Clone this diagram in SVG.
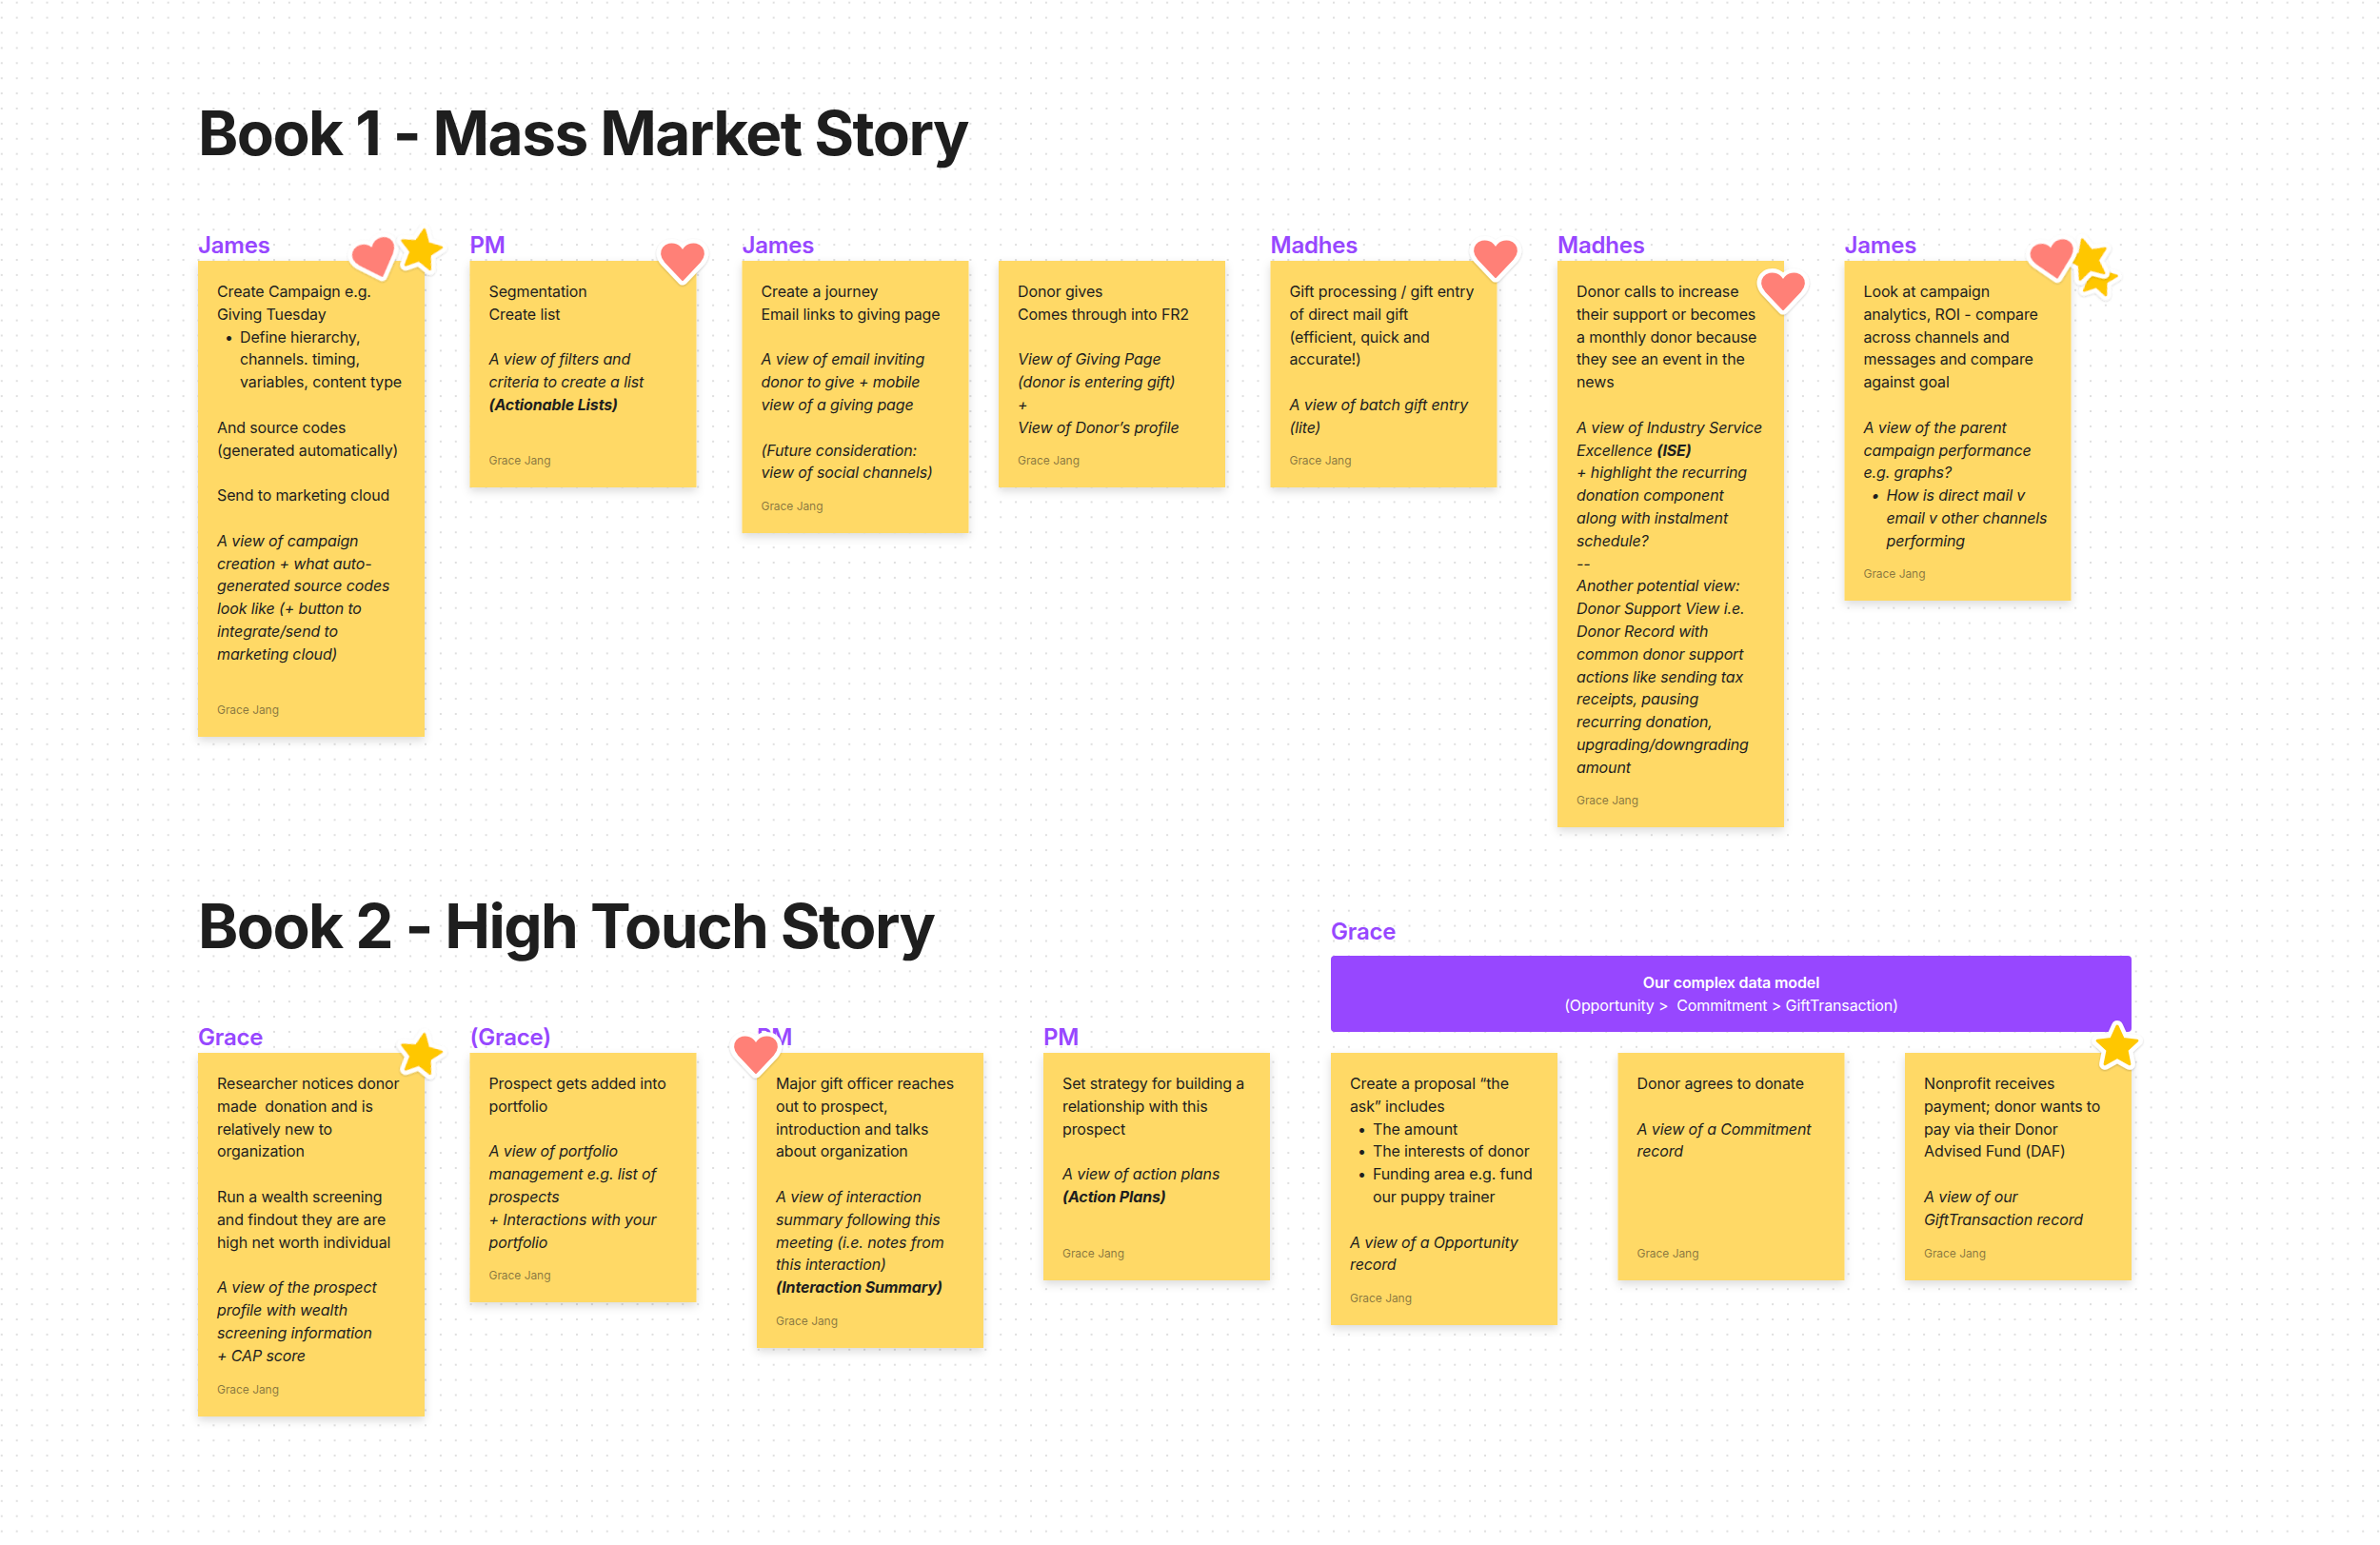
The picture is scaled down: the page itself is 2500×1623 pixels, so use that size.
<svg xmlns="http://www.w3.org/2000/svg" width="2500" height="1623" viewBox="0 0 2500 1623">
<style>
text{font-family:Inter,"Noto Sans","Liberation Sans",sans-serif;white-space:pre}
.h{font-size:64px;font-weight:700;fill:#1e1e1e;letter-spacing:-1.6px}
.n{font-size:24px;font-weight:600;fill:#9747ff;letter-spacing:-.2px}
.t{font-size:16px;fill:#1e1e1e;letter-spacing:-.13px}
.i{font-style:italic}
.b{font-weight:700;font-style:italic}
.a{font-size:12px;fill:#1e1e1e;fill-opacity:.55;letter-spacing:-.05px}
.note{fill:#ffd966;filter:url(#sh)}
.w{fill:#fff;text-anchor:middle;font-size:16px;letter-spacing:-.13px}
</style>
<defs>
<pattern id="dots" x="1.8" y="2.7" width="15.9" height="15.9" patternUnits="userSpaceOnUse"><circle cx="0" cy="0" r="1" fill="#d4d4d4"/><circle cx="15.9" cy="0" r="1" fill="#d4d4d4"/><circle cx="0" cy="15.9" r="1" fill="#d4d4d4"/><circle cx="15.9" cy="15.9" r="1" fill="#d4d4d4"/></pattern>
<filter id="sh" x="-10%" y="-10%" width="120%" height="120%"><feDropShadow dx="0" dy="4" stdDeviation="5" flood-color="#000" flood-opacity=".14"/></filter>
<filter id="ss" x="-20%" y="-20%" width="140%" height="140%"><feDropShadow dx="0" dy="1" stdDeviation="1.2" flood-color="#000" flood-opacity=".2"/></filter>
<path id="hp" d="M0 19 L-18 0 C-28 -11 -17 -22 -6.500 -17.500 C-3 -16 -1 -13 0 -10.500 C1 -13 3 -16 6.500 -17.500 C17 -22 28 -11 18 0 Z"/>
<polygon id="sp" points="0,-22 6.200,-8.500 20.900,-6.800 10,3.200 12.900,17.800 0,10.500 -12.900,17.800 -10,3.200 -20.900,-6.800 -6.200,-8.500"/>
<g id="heart" filter="url(#ss)"><use href="#hp" fill="#fff" stroke="#fff" stroke-width="11" stroke-linejoin="round"/><use href="#hp" fill="#ff8077" stroke="#ff8077" stroke-width="2" stroke-linejoin="round"/></g>
<g id="star" filter="url(#ss)"><use href="#sp" fill="#fff" stroke="#fff" stroke-width="12" stroke-linejoin="round"/><use href="#sp" fill="#ffc700" stroke="#ffc700" stroke-width="3" stroke-linejoin="round"/></g>
</defs>
<rect width="2500" height="1623" fill="#fff"/>
<rect width="2500" height="1623" fill="url(#dots)"/>
<text class="h" x="208" y="163">Book 1 - Mass Market Story</text>
<text class="h" x="208" y="996">Book 2 - High Touch Story</text>

<g id="note-1-1"><text class="n" x="208" y="266">James</text><rect class="note" x="208" y="274" width="238" height="500"/>
<text class="t" y="312"><tspan x="228">Create Campaign e.g.</tspan><tspan x="228" dy="23.8">Giving Tuesday</tspan><tspan x="236" dy="23.8">•</tspan><tspan x="252">Define hierarchy,</tspan><tspan x="252" dy="23.8">channels. timing,</tspan><tspan x="252" dy="23.8">variables, content type</tspan><tspan x="228" dy="47.6">And source codes</tspan><tspan x="228" dy="23.8">(generated automatically)</tspan><tspan x="228" dy="47.6">Send to marketing cloud</tspan><tspan class="i" x="228" dy="47.6">A view of campaign</tspan><tspan class="i" x="228" dy="23.8">creation + what auto-</tspan><tspan class="i" x="228" dy="23.8">generated source codes</tspan><tspan class="i" x="228" dy="23.8">look like (+ button to</tspan><tspan class="i" x="228" dy="23.8">integrate/send to</tspan><tspan class="i" x="228" dy="23.8">marketing cloud)</tspan></text>
<text class="a" x="228" y="750">Grace Jang</text></g>

<g id="note-1-2"><text class="n" x="493.500" y="266">PM</text><rect class="note" x="493.500" y="274" width="238" height="238"/>
<text class="t" y="312"><tspan x="513.500">Segmentation</tspan><tspan x="513.500" dy="23.8">Create list</tspan><tspan class="i" x="513.500" dy="47.6">A view of filters and</tspan><tspan class="i" x="513.500" dy="23.8">criteria to create a list</tspan><tspan class="b" x="513.500" dy="23.8">(Actionable Lists)</tspan></text>
<text class="a" x="513.500" y="488">Grace Jang</text></g>

<g id="note-1-3"><text class="n" x="779.500" y="266">James</text><rect class="note" x="779.500" y="274" width="238" height="286"/>
<text class="t" y="312"><tspan x="799.500">Create a journey</tspan><tspan x="799.500" dy="23.8">Email links to giving page</tspan><tspan class="i" x="799.500" dy="47.6">A view of email inviting</tspan><tspan class="i" x="799.500" dy="23.8">donor to give + mobile</tspan><tspan class="i" x="799.500" dy="23.8">view of a giving page</tspan><tspan class="i" x="799.500" dy="47.6">(Future consideration:</tspan><tspan class="i" x="799.500" dy="23.8">view of social channels)</tspan></text>
<text class="a" x="799.500" y="536">Grace Jang</text></g>

<g id="note-1-4"><rect class="note" x="1049" y="274" width="238" height="238"/>
<text class="t" y="312"><tspan x="1069">Donor gives</tspan><tspan x="1069" dy="23.8">Comes through into FR2</tspan><tspan class="i" x="1069" dy="47.6">View of Giving Page</tspan><tspan class="i" x="1069" dy="23.8">(donor is entering gift)</tspan><tspan class="i" x="1069" dy="23.8">+</tspan><tspan class="i" x="1069" dy="23.8">View of Donor’s profile</tspan></text>
<text class="a" x="1069" y="488">Grace Jang</text></g>

<g id="note-1-5"><text class="n" x="1334.500" y="266">Madhes</text><rect class="note" x="1334.500" y="274" width="238" height="238"/>
<text class="t" y="312"><tspan x="1354.500">Gift processing / gift entry</tspan><tspan x="1354.500" dy="23.8">of direct mail gift</tspan><tspan x="1354.500" dy="23.8">(efficient, quick and</tspan><tspan x="1354.500" dy="23.8">accurate!)</tspan><tspan class="i" x="1354.500" dy="47.6">A view of batch gift entry</tspan><tspan class="i" x="1354.500" dy="23.8">(lite)</tspan></text>
<text class="a" x="1354.500" y="488">Grace Jang</text></g>

<g id="note-1-6"><text class="n" x="1636" y="266">Madhes</text><rect class="note" x="1636" y="274" width="238" height="595"/>
<text class="t" y="312"><tspan x="1656">Donor calls to increase</tspan><tspan x="1656" dy="23.8">their support or becomes</tspan><tspan x="1656" dy="23.8">a monthly donor because</tspan><tspan x="1656" dy="23.8">they see an event in the</tspan><tspan x="1656" dy="23.8">news</tspan><tspan class="i" x="1656" dy="47.6">A view of Industry Service</tspan><tspan class="i" x="1656" dy="23.8">Excellence </tspan><tspan class="b">(ISE)</tspan><tspan class="i" x="1656" dy="23.8">+ highlight the recurring</tspan><tspan class="i" x="1656" dy="23.8">donation component</tspan><tspan class="i" x="1656" dy="23.8">along with instalment</tspan><tspan class="i" x="1656" dy="23.8">schedule?</tspan><tspan class="i" x="1656" dy="23.8">--</tspan><tspan class="i" x="1656" dy="23.8">Another potential view:</tspan><tspan class="i" x="1656" dy="23.8">Donor Support View i.e.</tspan><tspan class="i" x="1656" dy="23.8">Donor Record with</tspan><tspan class="i" x="1656" dy="23.8">common donor support</tspan><tspan class="i" x="1656" dy="23.8">actions like sending tax</tspan><tspan class="i" x="1656" dy="23.8">receipts, pausing</tspan><tspan class="i" x="1656" dy="23.8">recurring donation,</tspan><tspan class="i" x="1656" dy="23.8">upgrading/downgrading</tspan><tspan class="i" x="1656" dy="23.8">amount</tspan></text>
<text class="a" x="1656" y="845">Grace Jang</text></g>

<g id="note-1-7"><text class="n" x="1937.500" y="266">James</text><rect class="note" x="1937.500" y="274" width="238" height="357"/>
<text class="t" y="312"><tspan x="1957.500">Look at campaign</tspan><tspan x="1957.500" dy="23.8">analytics, ROI - compare</tspan><tspan x="1957.500" dy="23.8">across channels and</tspan><tspan x="1957.500" dy="23.8">messages and compare</tspan><tspan x="1957.500" dy="23.8">against goal</tspan><tspan class="i" x="1957.500" dy="47.6">A view of the parent</tspan><tspan class="i" x="1957.500" dy="23.8">campaign performance</tspan><tspan class="i" x="1957.500" dy="23.8">e.g. graphs?</tspan><tspan class="i" x="1965.500" dy="23.8">•</tspan><tspan class="i" x="1981.500">How is direct mail v</tspan><tspan class="i" x="1981.500" dy="23.8">email v other channels</tspan><tspan class="i" x="1981.500" dy="23.8">performing</tspan></text>
<text class="a" x="1957.500" y="607">Grace Jang</text></g>

<g id="note-2-1"><text class="n" x="208" y="1098">Grace</text><rect class="note" x="208" y="1106" width="238" height="382"/>
<text class="t" y="1144"><tspan x="228">Researcher notices donor</tspan><tspan x="228" dy="23.8">made  donation and is</tspan><tspan x="228" dy="23.8">relatively new to</tspan><tspan x="228" dy="23.8">organization</tspan><tspan x="228" dy="47.6">Run a wealth screening</tspan><tspan x="228" dy="23.8">and findout they are are</tspan><tspan x="228" dy="23.8">high net worth individual</tspan><tspan class="i" x="228" dy="47.6">A view of the prospect</tspan><tspan class="i" x="228" dy="23.8">profile with wealth</tspan><tspan class="i" x="228" dy="23.8">screening information</tspan><tspan class="i" x="228" dy="23.8">+ CAP score</tspan></text>
<text class="a" x="228" y="1464">Grace Jang</text></g>

<g id="note-2-2"><text class="n" x="493.500" y="1098">(Grace)</text><rect class="note" x="493.500" y="1106" width="238" height="262"/>
<text class="t" y="1144"><tspan x="513.500">Prospect gets added into</tspan><tspan x="513.500" dy="23.8">portfolio</tspan><tspan class="i" x="513.500" dy="47.6">A view of portfolio</tspan><tspan class="i" x="513.500" dy="23.8">management e.g. list of</tspan><tspan class="i" x="513.500" dy="23.8">prospects</tspan><tspan class="i" x="513.500" dy="23.8">+ Interactions with your</tspan><tspan class="i" x="513.500" dy="23.8">portfolio</tspan></text>
<text class="a" x="513.500" y="1344">Grace Jang</text></g>

<g id="note-2-3"><text class="n" x="795" y="1098">PM</text><rect class="note" x="795" y="1106" width="238" height="310"/>
<text class="t" y="1144"><tspan x="815">Major gift officer reaches</tspan><tspan x="815" dy="23.8">out to prospect,</tspan><tspan x="815" dy="23.8">introduction and talks</tspan><tspan x="815" dy="23.8">about organization</tspan><tspan class="i" x="815" dy="47.6">A view of interaction</tspan><tspan class="i" x="815" dy="23.8">summary following this</tspan><tspan class="i" x="815" dy="23.8">meeting (i.e. notes from</tspan><tspan class="i" x="815" dy="23.8">this interaction)</tspan><tspan class="b" x="815" dy="23.8">(Interaction Summary)</tspan></text>
<text class="a" x="815" y="1392">Grace Jang</text></g>

<g id="note-2-4"><text class="n" x="1096" y="1098">PM</text><rect class="note" x="1096" y="1106" width="238" height="239"/>
<text class="t" y="1144"><tspan x="1116">Set strategy for building a</tspan><tspan x="1116" dy="23.8">relationship with this</tspan><tspan x="1116" dy="23.8">prospect</tspan><tspan class="i" x="1116" dy="47.6">A view of action plans</tspan><tspan class="b" x="1116" dy="23.8">(Action Plans)</tspan></text>
<text class="a" x="1116" y="1321">Grace Jang</text></g>

<g id="banner"><text class="n" x="1398" y="987">Grace</text><rect x="1398" y="1004" width="841" height="80" rx="4" fill="#9747ff"/>
<text class="w" x="1818.500" y="1038" font-weight="600">Our complex data model</text><text class="w" x="1818.500" y="1062">(Opportunity &gt;  Commitment &gt; GiftTransaction)</text></g>

<g id="note-2-5"><rect class="note" x="1398" y="1106" width="238" height="286"/>
<text class="t" y="1144"><tspan x="1418">Create a proposal “the</tspan><tspan x="1418" dy="23.8">ask” includes</tspan><tspan x="1426" dy="23.8">•</tspan><tspan x="1442">The amount</tspan><tspan x="1426" dy="23.8">•</tspan><tspan x="1442">The interests of donor</tspan><tspan x="1426" dy="23.8">•</tspan><tspan x="1442">Funding area e.g. fund</tspan><tspan x="1442" dy="23.8">our puppy trainer</tspan><tspan class="i" x="1418" dy="47.6">A view of a Opportunity</tspan><tspan class="i" x="1418" dy="23.8">record</tspan></text>
<text class="a" x="1418" y="1368">Grace Jang</text></g>

<g id="note-2-6"><rect class="note" x="1699.500" y="1106" width="238" height="239"/>
<text class="t" y="1144"><tspan x="1719.500">Donor agrees to donate</tspan><tspan class="i" x="1719.500" dy="47.6">A view of a Commitment</tspan><tspan class="i" x="1719.500" dy="23.8">record</tspan></text>
<text class="a" x="1719.500" y="1321">Grace Jang</text></g>

<g id="note-2-7"><rect class="note" x="2001" y="1106" width="238" height="239"/>
<text class="t" y="1144"><tspan x="2021">Nonprofit receives</tspan><tspan x="2021" dy="23.8">payment; donor wants to</tspan><tspan x="2021" dy="23.8">pay via their Donor</tspan><tspan x="2021" dy="23.8">Advised Fund (DAF)</tspan><tspan class="i" x="2021" dy="47.6">A view of our</tspan><tspan class="i" x="2021" dy="23.8">GiftTransaction record</tspan></text>
<text class="a" x="2021" y="1321">Grace Jang</text></g>

<g id="stickers">
<use href="#heart" transform="translate(395 272) rotate(-20)"/>
<use href="#star" transform="translate(442 263) rotate(10)"/>
<use href="#heart" transform="translate(717 275)"/>
<use href="#heart" transform="translate(1571 272)"/>
<use href="#heart" transform="translate(1873 306)"/>
<use href="#star" transform="translate(2204 292) rotate(12) scale(.9)"/>
<use href="#star" transform="translate(2193 273) rotate(-15)"/>
<use href="#heart" transform="translate(2157 273) rotate(-12)"/>
<use href="#star" transform="translate(442 1108) rotate(10)"/>
<use href="#heart" transform="translate(794 1108)"/>
<use href="#star" transform="translate(2224 1100)"/>
</g>
</svg>
